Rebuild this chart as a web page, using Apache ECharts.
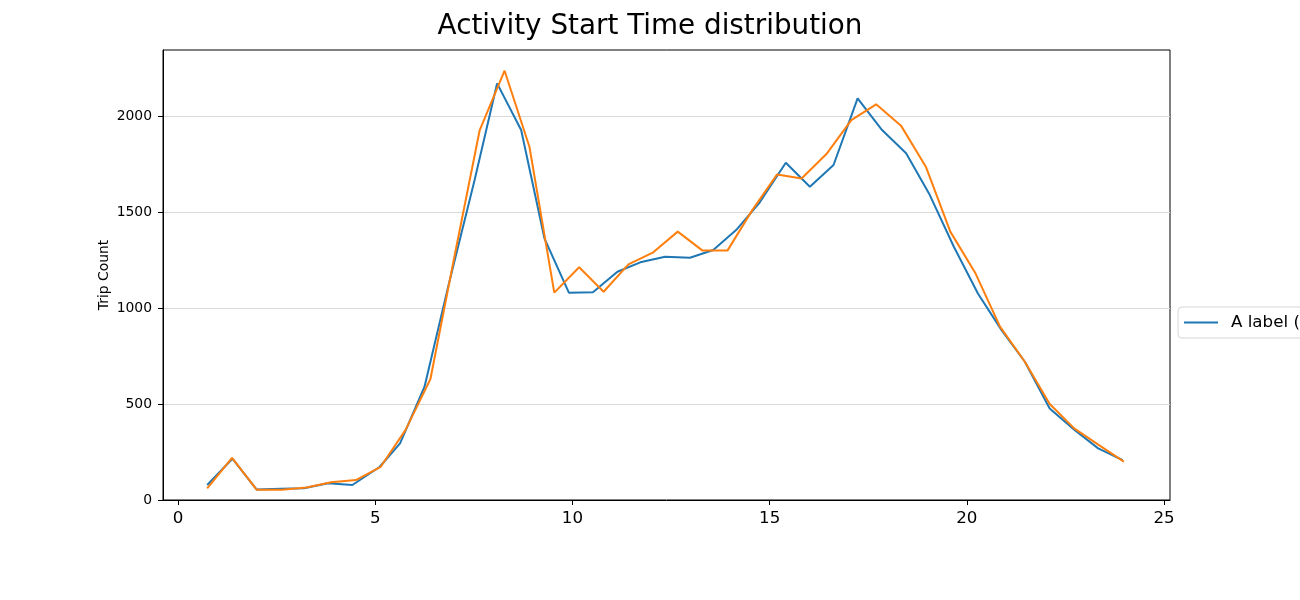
<!DOCTYPE html>
<html>
<head>
<meta charset="utf-8">
<script src="https://cdn.jsdelivr.net/npm/echarts@6/dist/echarts.min.js"></script>
<style>
  html, body { margin: 0; padding: 0; background: #fff; }
  #chart { width: 1300px; height: 600px; }
</style>
</head>
<body>
<div id="chart"></div>
<script>
// start hour of each bin, blue series
const blueHours = [0.74, 1.38, 1.99, 2.60, 3.19, 3.81, 4.42, 5.11, 5.63, 6.25, 6.86, 7.52, 8.09, 8.70, 9.29, 9.91, 10.52, 11.14, 11.72, 12.35,
  12.98, 13.57, 14.15, 14.73, 15.41, 16.02, 16.62, 17.23, 17.85, 18.46, 19.04, 19.67, 20.28, 20.88, 21.47, 22.10, 22.73, 23.33, 23.95]
const blueCounts = [78, 215, 55, 58, 61, 87, 78, 172, 295, 590, 1120, 1667, 2170, 1927, 1363, 1080, 1082, 1189, 1238, 1267,
  1262, 1302, 1406, 1545, 1757, 1632, 1745, 2092, 1927, 1806, 1597, 1319, 1076, 885, 720, 477, 365, 269, 208]

// orange series
const orangeHours = [0.74, 1.37, 2.00, 2.63, 3.26, 3.88, 4.51, 5.14, 5.77, 6.40, 7.02, 7.65, 8.28, 8.91, 9.54, 10.17, 10.79, 11.42, 12.05,
  12.67, 13.30, 13.93, 14.56, 15.19, 15.81, 16.44, 17.07, 17.70, 18.33, 18.96, 19.58, 20.21, 20.84, 21.47, 22.10, 22.72, 23.35, 23.98]
const orangeCounts = [61, 220, 53, 53, 65, 92, 104, 173, 365, 630, 1280, 1927, 2236, 1840, 1080, 1212, 1085, 1227, 1290,
  1398, 1299, 1299, 1510, 1696, 1675, 1802, 1979, 2061, 1950, 1736, 1398, 1184, 903, 720, 500, 373, 286, 200]

const xTicks = [0, 5, 10, 15, 20, 25]
const yTicks = [0, 500, 1000, 1500, 2000]

const font = 'DejaVu Sans'
const pair = (xs, ys) => xs.map((x, i) => [x, ys[i]])

const myChart = echarts.init(document.getElementById('chart'))
const option = {
  animation: false,
  title: {
    text: 'Activity Start Time distribution',
    left: 'center',
    top: 8,
    textStyle: { fontFamily: font, fontSize: 27.8, fontWeight: 'normal', color: '#000' }
  },
  legend: {
    data: ['A label (blue)'],
    left: 1178,
    top: 307,
    orient: 'vertical',
    icon: 'rect',
    itemWidth: 34,
    itemHeight: 2,
    padding: [7, 6, 7, 6],
    borderColor: '#d6d6d6',
    borderWidth: 1,
    borderRadius: 4,
    backgroundColor: '#fff',
    textStyle: { fontFamily: font, fontSize: 16.7, color: '#000', padding: [0, 0, 0, 8] }
  },
  grid: {
    left: 163, right: 130, top: 50, bottom: 100,
    show: true, borderColor: '#000', borderWidth: 1,
    containLabel: false
  },
  xAxis: {
    type: 'value',
    min: -0.38,
    max: 25.15,
    axisLine: { onZero: false, lineStyle: { color: '#000', width: 1 } },
    axisTick: { show: true, length: 5, lineStyle: { color: '#000' }, customValues: xTicks },
    axisLabel: { color: '#000', fontFamily: font, fontSize: 16.7, margin: 10, customValues: xTicks },
    splitLine: { show: false }
  },
  yAxis: {
    type: 'value',
    min: 0,
    max: 2344,
    interval: 500,
    name: 'Trip Count',
    nameLocation: 'middle',
    nameGap: 52,
    nameMoveOverlap: false,
    nameTextStyle: { fontFamily: font, fontSize: 13.9, color: '#000' },
    axisLine: { show: true, onZero: false, lineStyle: { color: '#000', width: 1 } },
    axisTick: { show: true, length: 5, lineStyle: { color: '#000' }, customValues: yTicks },
    axisLabel: {
      color: '#000', fontFamily: font, fontSize: 13.9, margin: 11, customValues: yTicks,
      formatter: (v) => String(v)
    },
    splitLine: { show: true, lineStyle: { color: '#d9d9d9', width: 1 } }
  },
  series: [
    {
      name: 'A label (blue)',
      type: 'line',
      data: pair(blueHours, blueCounts),
      showSymbol: false,
      symbol: 'none',
      color: '#1f77b4',
      lineStyle: { color: '#1f77b4', width: 2 }
    },
    {
      name: 'orange',
      type: 'line',
      data: pair(orangeHours, orangeCounts),
      showSymbol: false,
      symbol: 'none',
      color: '#ff7f0e',
      lineStyle: { color: '#ff7f0e', width: 2 }
    }
  ]
}
myChart.setOption(option)
</script>
</body>
</html>
